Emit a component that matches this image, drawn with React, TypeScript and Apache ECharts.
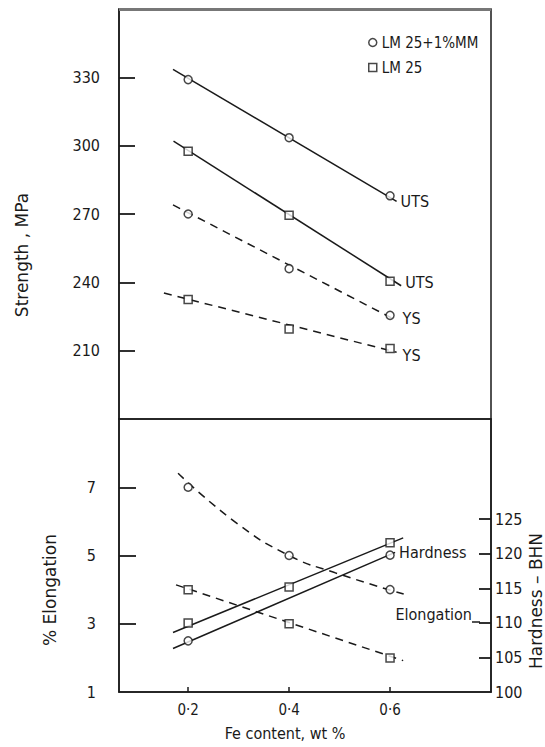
import React, { useEffect, useRef } from "react";
import * as echarts from "echarts";

// Fe content (wt %) at which the alloys were tested
const feContent = [0.2, 0.4, 0.6];
const feRange = [0.063, 0.8];

// Strength, MPa
const utsMM = [329, 303.5, 278];
const uts25 = [297.5, 269.5, 240.5];
const ysMM = [270, 246, 225.5];
const ys25 = [232.5, 219.5, 211];

// Straight-line fits through the strength data: [Fe, MPa] end points
const utsMMFit = [[0.17, 333.5], [0.613, 275.5]];
const uts25Fit = [[0.171, 302], [0.622, 238.5]];
const ysMMFit = [[0.17, 274], [0.613, 223.2]];
const ys25Fit = [[0.152, 235.3], [0.613, 209.3]];

// % Elongation
const elongMM = [7, 5, 4];
const elong25 = [4, 3, 2];
const elongMMCurve = [[0.18, 7.41], [0.296, 5.95], [0.4, 5.0], [0.49, 4.5], [0.627, 3.87]];
const elong25Fit = [[0.176, 4.14], [0.626, 1.92]];

// Hardness, BHN
const hard25 = [110, 115.2, 121.6];
const hardMMFe = [0.2, 0.6];
const hardMM = [107.4, 119.8];
const hard25Fit = [[0.17, 108.6], [0.626, 122.3]];
const hardMMFit = [[0.17, 106.3], [0.61, 120.2]];

// Axis ticks
const strengthTicks = [210, 240, 270, 300, 330];
const elongTicks = [1, 3, 5, 7];
const hardTicks = [100, 105, 110, 115, 120, 125];

const NAME_MM = "LM 25+1%MM";
const NAME_25 = "LM 25";

const FONT = '"DejaVu Sans Condensed", "DejaVu Sans", sans-serif';
const INK = "#1a1a1a";

const GRID_LEFT = 119;
const GRID_WIDTH = 372;

const pairs = (xs: number[], ys: number[]) => xs.map((x, i) => [x, ys[i]]);

export default function App() {
  const ref = useRef<HTMLDivElement>(null);

  useEffect(() => {
    if (!ref.current) return;
    const chart = echarts.init(ref.current, null, { renderer: "svg" });

    const lineStyleSolid = { color: INK, width: 1.5, type: "solid" as const };
    const lineStyleDash = { color: INK, width: 1.5, type: [8, 6] as any };

    const fit = (
      data: number[][],
      xi: number,
      yi: number,
      dashed: boolean,
      label?: string,
      offset: number[] = [0, 0],
      smooth = false
    ) => ({
      type: "line",
      xAxisIndex: xi,
      yAxisIndex: yi,
      data,
      smooth,
      symbol: "none",
      silent: true,
      lineStyle: dashed ? lineStyleDash : lineStyleSolid,
      z: 2,
      endLabel: label
        ? { show: true, formatter: label, distance: 4, offset, fontFamily: FONT, fontSize: 16, color: INK }
        : { show: false },
    });

    const marks = (name: string, symbol: string, data: number[][], xi: number, yi: number) => ({
      type: "scatter",
      name,
      xAxisIndex: xi,
      yAxisIndex: yi,
      data,
      symbol,
      symbolSize: 8,
      itemStyle: { color: "#fff", borderColor: INK, borderWidth: 1.5 },
      z: 5,
    });

    // Fe units per pixel along the x axes, used to give the tick marks a pixel length
    const fePerPx = (feRange[1] - feRange[0]) / GRID_WIDTH;

    // Inward tick marks on a value axis, drawn as short horizontal segments
    const ticks = (values: number[], edge: number, xi: number, yi: number, lengthPx: number) => ({
      type: "line",
      xAxisIndex: xi,
      yAxisIndex: yi,
      data: [],
      silent: true,
      symbol: "none",
      z: 6,
      markLine: {
        silent: true,
        symbol: "none",
        animation: false,
        label: { show: false },
        lineStyle: { color: INK, width: 1.8, type: "solid" },
        data: values.map((v) => [{ coord: [edge, v] }, { coord: [edge + lengthPx * fePerPx, v] }]),
      },
    });

    const tickLabel = { fontFamily: FONT, fontSize: 16, color: INK };
    const axisLine = { show: true, lineStyle: { color: INK, width: 1.5 } };

    chart.setOption({
      animation: false,
      backgroundColor: "#fff",
      grid: [
        { left: GRID_LEFT, top: 9, width: GRID_WIDTH, height: 410, show: true, borderColor: INK, borderWidth: 1.5, backgroundColor: "transparent" },
        { left: GRID_LEFT, top: 419, width: GRID_WIDTH, height: 273, show: true, borderColor: INK, borderWidth: 1.5, backgroundColor: "transparent" },
      ],
      legend: {
        orient: "vertical",
        left: 363,
        top: 30,
        itemWidth: 8,
        itemHeight: 8,
        itemGap: 10,
        selectedMode: false,
        textStyle: { fontFamily: FONT, fontSize: 15, color: INK },
        data: [
          { name: NAME_MM, icon: "circle", itemStyle: { color: "#fff", borderColor: INK, borderWidth: 1.5 } },
          { name: NAME_25, icon: "rect", itemStyle: { color: "#fff", borderColor: INK, borderWidth: 1.5 } },
        ],
      },
      xAxis: [
        { type: "value", gridIndex: 0, min: feRange[0], max: feRange[1], show: false },
        {
          type: "value",
          gridIndex: 1,
          min: feRange[0],
          max: feRange[1],
          axisLine,
          splitLine: { show: false },
          axisTick: { show: true, inside: true, length: 5, customValues: feContent, lineStyle: { color: INK, width: 1.5 } },
          axisLabel: {
            ...tickLabel,
            fontSize: 15,
            margin: 10,
            customValues: feContent,
            formatter: (v: number) => v.toFixed(1).replace(".", "·"),
          },
        },
      ],
      yAxis: [
        {
          type: "value",
          gridIndex: 0,
          min: 180,
          max: 360,
          axisLine,
          splitLine: { show: false },
          axisTick: { show: false },
          axisLabel: { ...tickLabel, margin: 19, customValues: strengthTicks },
        },
        {
          type: "value",
          gridIndex: 1,
          min: 1,
          max: 9,
          axisLine,
          splitLine: { show: false },
          axisTick: { show: false },
          axisLabel: { ...tickLabel, margin: 23, customValues: elongTicks },
        },
        {
          type: "value",
          gridIndex: 1,
          position: "right",
          min: 100,
          max: 139.5,
          axisLine,
          splitLine: { show: false },
          axisTick: { show: false },
          axisLabel: { ...tickLabel, margin: 4, customValues: hardTicks },
        },
      ],
      series: [
        // strength panel
        fit(utsMMFit, 0, 0, false, "UTS", [0, 0]),
        fit(uts25Fit, 0, 0, false, "UTS", [0, -3]),
        fit(ysMMFit, 0, 0, true, "YS", [2, -2]),
        fit(ys25Fit, 0, 0, true, "YS", [2, 3]),
        marks(NAME_MM, "circle", pairs(feContent, utsMM), 0, 0),
        marks(NAME_25, "rect", pairs(feContent, uts25), 0, 0),
        marks(NAME_MM, "circle", pairs(feContent, ysMM), 0, 0),
        marks(NAME_25, "rect", pairs(feContent, ys25), 0, 0),
        // elongation and hardness panel
        fit(elongMMCurve, 1, 1, true, undefined, [0, 0], true),
        fit(elong25Fit, 1, 1, true),
        fit(hard25Fit, 1, 2, false),
        fit(hardMMFit, 1, 2, false, "Hardness", [0, 0]),
        marks(NAME_MM, "circle", pairs(feContent, elongMM), 1, 1),
        marks(NAME_25, "rect", pairs(feContent, elong25), 1, 1),
        marks(NAME_25, "rect", pairs(feContent, hard25), 1, 2),
        marks(NAME_MM, "circle", pairs(hardMMFe, hardMM), 1, 2),
        // tick marks on the value axes
        ticks(strengthTicks, feRange[0], 0, 0, 16),
        ticks(elongTicks.filter((v) => v !== 1), feRange[0], 1, 1, 17),
        ticks(hardTicks.filter((v) => v !== 100), feRange[1], 1, 2, -12),
      ],
      graphic: [
        {
          type: "line",
          shape: { x1: 119, y1: 9.5, x2: 491, y2: 9.5 },
          style: { stroke: "#777", lineWidth: 3 },
          z: 10,
        },
        {
          type: "text",
          x: 22,
          y: 255,
          rotation: Math.PI / 2,
          style: { text: "Strength , MPa", fontFamily: "DejaVu Sans, sans-serif", fontSize: 17, fill: INK, align: "center", verticalAlign: "middle" },
        },
        {
          type: "text",
          x: 50,
          y: 590,
          rotation: Math.PI / 2,
          style: { text: "% Elongation", fontFamily: "DejaVu Sans, sans-serif", fontSize: 17, fill: INK, align: "center", verticalAlign: "middle" },
        },
        {
          type: "text",
          x: 536,
          y: 601,
          rotation: Math.PI / 2,
          style: { text: "Hardness – BHN", fontFamily: "DejaVu Sans, sans-serif", fontSize: 17, fill: INK, align: "center", verticalAlign: "middle" },
        },
        {
          type: "text",
          x: 285,
          y: 733,
          style: { text: "Fe content, wt %", fontFamily: FONT, fontSize: 16, fill: INK, align: "center", verticalAlign: "middle" },
        },
        {
          type: "text",
          x: 472,
          y: 614,
          style: { text: "Elongation", fontFamily: FONT, fontSize: 16, fill: INK, align: "right", verticalAlign: "middle" },
        },
        {
          type: "line",
          shape: { x1: 472, y1: 622, x2: 480, y2: 622 },
          style: { stroke: INK, lineWidth: 1.5 },
        },
      ],
    });

    return () => chart.dispose();
  }, []);

  return (
    <div
      ref={ref}
      style={{ position: "fixed", left: 0, top: 0, width: 545, height: 747, background: "#fff" }}
    />
  );
}
